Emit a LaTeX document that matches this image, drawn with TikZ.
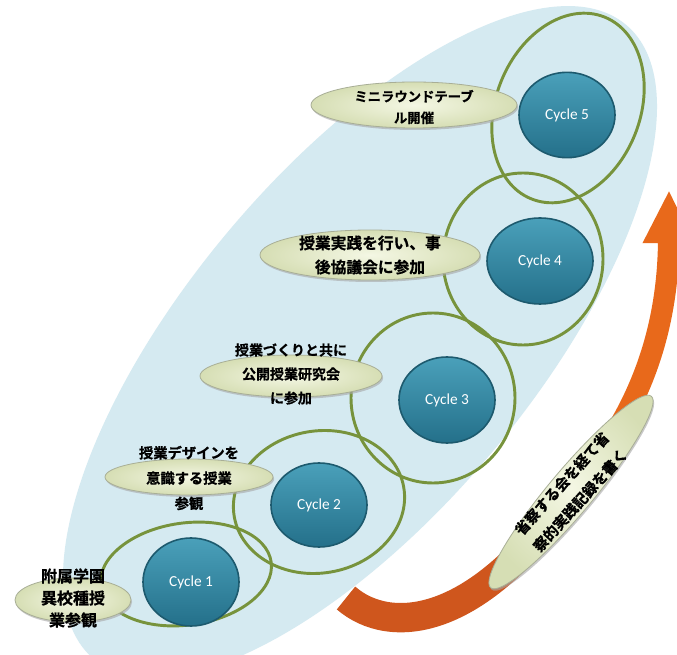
\documentclass[tikz,border=0pt]{standalone}
\usepackage{fontspec}
\setsansfont{Carlito}
\newfontfamily\jpfont{Noto Sans CJK JP Bold}[FakeBold=0.8]
\usetikzlibrary{arrows.meta,shapes.geometric,shadows}
\definecolor{bigblue}{HTML}{D5EAF1}
\definecolor{ringgreen}{HTML}{77933C}
\definecolor{cyctop}{HTML}{4AA0BA}
\definecolor{cycbot}{HTML}{24708A}
\definecolor{cycedge}{HTML}{1D5A6E}
\definecolor{lblin}{HTML}{F4F7E4}
\definecolor{lblout}{HTML}{D6DEB4}
\definecolor{lbledge}{HTML}{A8AE96}
\definecolor{arrlow}{HTML}{CF561D}
\definecolor{arrhigh}{HTML}{E8691B}
\tikzset{
  bigell/.style={fill=bigblue},
  ring/.style={draw=ringgreen, line width=2.2pt},
  cyc/.style={ellipse, draw=cycedge, line width=1.2pt, top color=cyctop, bottom color=cycbot,
    text=white, font=\sffamily\fontsize{11.5}{13}\selectfont, inner sep=0pt},
  lbl/.style={ellipse, inner sep=0pt, draw=lbledge, line width=0.6pt, inner color=lblin, outer color=lblout,
    drop shadow={shadow xshift=0.8pt, shadow yshift=-1.5pt, fill=gray!70, opacity=0.6}},
  lbltxt/.style={align=center, inner sep=0pt, text=black},
  band/.style={line cap=butt}
}
\begin{document}
\begin{tikzpicture}[x=0.75pt,y=-0.75pt]
\useasboundingbox (0,0) rectangle (677,655);
\fill[white] (0,0) rectangle (677,655);
% big background ellipse
\fill[bigell] (360,342) ellipse [x radius=414, y radius=172, rotate=50];
% rings
\draw[ring] (186,574) ellipse [x radius=86, y radius=51, rotate=8];
\draw[ring] (319,502) ellipse [x radius=86, y radius=71, rotate=10];
\draw[ring] (433,398) ellipse [x radius=82, y radius=85];
\draw[ring] (523,259) ellipse [x radius=80, y radius=86];
\draw[ring] (568,108) ellipse [x radius=98, y radius=72, rotate=68];
% cycles
\node[cyc, minimum width=72pt, minimum height=66pt] (c1) at (191,582) {Cycle 1};
\node[cyc, minimum width=72pt, minimum height=63pt] (c2) at (319,505) {Cycle 2};
\node[cyc, minimum width=72pt, minimum height=64.5pt] (c3) at (447,400) {Cycle 3};
\node[cyc, minimum width=79.5pt, minimum height=64.5pt] (c4) at (540,261) {Cycle 4};
\node[cyc, minimum width=72pt, minimum height=64pt] (c5) at (567,115) {Cycle 5};
% labels
\node[lbl, minimum width=87pt, minimum height=33pt] (l1) at (73,600) {};
\node[lbltxt, font=\jpfont\fontsize{12}{16.5}\selectfont] (t1) at (73,598) {附属学園\\異校種授\\業参観};
\node[lbl, minimum width=126pt, minimum height=27pt] (l2) at (189,477) {};
\node[lbltxt, font=\jpfont\fontsize{10.7}{19}\selectfont] (t2) at (189,478) {授業デザインを\\意識する授業\\参観};
\node[lbl, minimum width=136.5pt, minimum height=31.5pt] (l3) at (291,376) {};
\node[lbltxt, font=\jpfont\fontsize{10.5}{18}\selectfont] (t3) at (291,374) {授業づくりと共に\\公開授業研究会\\に参加};
\node[lbl, minimum width=165pt, minimum height=37.5pt] (l4) at (370,255) {};
\node[lbltxt, font=\jpfont\fontsize{11.8}{18}\selectfont] (t4) at (370,255) {授業実践を行い、事\\後協議会に参加};
\node[lbl, minimum width=154.5pt, minimum height=34.5pt] (l5) at (414,105) {};
\node[lbltxt, font=\jpfont\fontsize{10}{16}\selectfont] (t5) at (414,107) {ミニラウンドテーブ\\ル開催};
% orange arrow
\coordinate (atail) at (346,598);
\coordinate (amid) at (571,492);
\coordinate (ahead) at (669,190);
\draw[band, draw=arrlow, line width=22pt] (atail) .. controls (390,636) and (478,628) .. (amid);
\draw[band, draw=arrhigh, line width=16pt, -{Triangle[width=36pt,length=40pt]}] (amid) .. controls (640,415) and (668,330) .. (ahead);
\node[lbl, rotate=50, minimum width=187.5pt, minimum height=33pt] (l6) at (amid) {};
\node[lbltxt, rotate=48, font=\jpfont\fontsize{11}{18.5}\selectfont] (t6) at (amid) {省察する会を経て省\\察的実践記録を書く};
\end{tikzpicture}
\end{document}
